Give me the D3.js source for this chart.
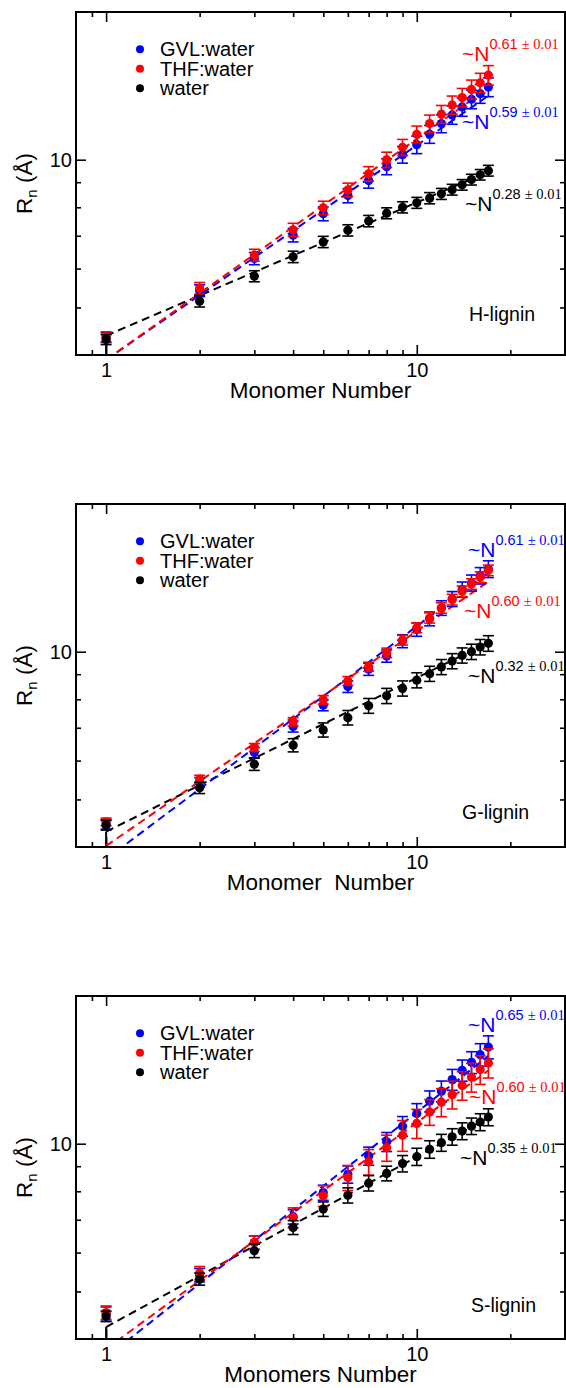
<!DOCTYPE html>
<html><head><meta charset="utf-8">
<script src="https://cdn.jsdelivr.net/npm/d3@7"></script>
<style>body{margin:0;background:#fff} svg{display:block;font-family:"Liberation Sans",Arial,sans-serif}</style>
</head><body><svg id="c" width="566" height="1388"></svg>
<script>
// ---------- data ----------
const monomers = [1,2,3,4,5,6,7,8,9,10,11,12,13,14,15,16,17];
const seriesNames = ["GVL:water","THF:water","water"];
const panelNames = ["H-lignin","G-lignin","S-lignin"];
const xTitles = ["Monomer Number","Monomer  Number","Monomers Number"];
const xTickValues = [1,10];
const xTickLabels = ["1","10"];
const xMinorTicks = [0.9,2,3,4,5,6,7,8,9,20];
const yTickValues = [10];
const yTickLabels = ["10"];
const yMinorTicks = [5,6,7,8,9];

// H-lignin
const hGVL   = [4.34,5.41,6.29,7.02,7.76,8.45,9.07,9.68,10.24,10.73,11.27,11.85,12.34,12.81,13.28,13.63,14.06];
const hTHF   = [4.36,5.47,6.39,7.20,7.98,8.68,9.36,10.0,10.6,11.27,11.85,12.38,12.93,13.39,13.91,14.35,14.87];
const hWater = [4.30,5.15,5.79,6.34,6.80,7.18,7.50,7.78,8.00,8.17,8.35,8.52,8.69,8.89,9.11,9.32,9.50];
const hGVLErr   = [0.10,0.15,0.18,0.22,0.25,0.28,0.32,0.36,0.40,0.44,0.47,0.50,0.53,0.55,0.58,0.60,0.62];
const hTHFErr   = [0.10,0.15,0.18,0.22,0.25,0.28,0.32,0.36,0.40,0.44,0.48,0.52,0.55,0.58,0.62,0.65,0.68];
const hWaterErr = [0.10,0.14,0.15,0.17,0.18,0.19,0.20,0.20,0.21,0.21,0.22,0.22,0.22,0.22,0.23,0.23,0.24];
// G-lignin
const gGVL   = [4.45,5.42,6.23,7.04,7.78,8.49,9.21,9.80,10.51,11.10,11.67,12.28,12.81,13.39,13.81,14.29,14.74];
const gTHF   = [4.50,5.50,6.38,7.20,7.98,8.72,9.32,9.95,10.56,11.19,11.72,12.28,12.77,13.28,13.74,14.20,14.65];
const gWater = [4.43,5.28,5.90,6.45,6.93,7.34,7.76,8.13,8.42,8.75,9.02,9.31,9.57,9.83,10.0,10.22,10.40];
const gGVLErr   = [0.10,0.12,0.15,0.18,0.20,0.23,0.26,0.28,0.32,0.35,0.38,0.42,0.45,0.48,0.52,0.55,0.58];
const gTHFErr   = [0.08,0.10,0.12,0.14,0.16,0.18,0.20,0.22,0.24,0.26,0.28,0.30,0.32,0.33,0.34,0.35,0.36];
const gWaterErr = [0.10,0.14,0.17,0.20,0.23,0.25,0.27,0.29,0.30,0.31,0.32,0.33,0.34,0.35,0.36,0.37,0.38];
// S-lignin
const sGVL   = [4.50,5.40,6.29,7.10,7.95,8.66,9.44,10.09,10.86,11.52,12.21,12.79,13.51,14.11,14.65,15.19,15.74];
const sTHF   = [4.53,5.45,6.29,7.07,7.83,8.53,9.18,9.81,10.40,11.00,11.60,12.15,12.59,13.14,13.66,14.16,14.61];
const sWater = [4.45,5.30,6.05,6.75,7.36,7.85,8.31,8.70,9.11,9.41,9.74,10.05,10.33,10.61,10.86,11.07,11.33];
const sGVLErr   = [0.15,0.17,0.20,0.24,0.28,0.35,0.40,0.45,0.50,0.55,0.60,0.63,0.66,0.70,0.75,0.80,0.85];
const sTHFErr   = [0.14,0.17,0.20,0.33,0.38,0.50,0.55,0.60,0.75,0.75,0.70,0.80,0.82,0.88,0.92,0.95,1.00];
const sWaterErr = [0.11,0.15,0.19,0.22,0.25,0.28,0.30,0.30,0.35,0.38,0.40,0.40,0.40,0.42,0.42,0.44,0.45];

// fitted power-law lines: values at the end points fitN
const fitN = [1,17];
const hFitGVL = [3.91,13.5], hFitTHF = [3.91,14.0], hFitWater = [4.38,9.45];
const gFitGVL = [3.78,14.5], gFitTHF = [4.02,13.9], gFitWater = [4.30,10.45];
const sFitGVL = [3.67,15.1], sFitTHF = [3.82,14.1], sFitWater = [4.23,11.3];

// exponent labels
const hExponents = ["0.59","0.61","0.28"];
const gExponents = ["0.61","0.60","0.32"];
const sExponents = ["0.65","0.60","0.35"];
const exponentErr = "\u00b1 0.01";

// ---------- layout / style ----------
const colors = ["#0000ff","#ff0000","#000000"];
const W = 566, X0 = 76, X1 = 565, PH = 343;
const panelTops = [12, 504, 996];
// annotation positions (x, baseline relative to panel top) per series [GVL, THF, water]
const annPos = [
  [[462,117],[462,49],[465,199]],
  [[468,53],[464,114],[468,179]],
  [[468,36],[469,108],[460,169]]
];
const panelLabelPos = [[469,309],[462,315],[471,316]];

const panels = [
  {name:panelNames[0], title:xTitles[0], vals:[hGVL,hTHF,hWater], errs:[hGVLErr,hTHFErr,hWaterErr], fits:[hFitGVL,hFitTHF,hFitWater], exps:hExponents},
  {name:panelNames[1], title:xTitles[1], vals:[gGVL,gTHF,gWater], errs:[gGVLErr,gTHFErr,gWaterErr], fits:[gFitGVL,gFitTHF,gFitWater], exps:gExponents},
  {name:panelNames[2], title:xTitles[2], vals:[sGVL,sTHF,sWater], errs:[sGVLErr,sTHFErr,sWaterErr], fits:[sFitGVL,sFitTHF,sFitWater], exps:sExponents}
];

const svg = d3.select("#c");
svg.append("rect").attr("width",W).attr("height",1388).attr("fill","#fff");

panels.forEach((p, pi) => {
  const top = panelTops[pi];
  const x = d3.scaleLog().domain([0.8,30]).range([X0,X1]);
  const y = d3.scaleLog().domain([4,20]).range([top+PH, top]);
  const g = svg.append("g");
  const clipId = "clip"+pi;
  svg.append("clipPath").attr("id",clipId).append("rect")
     .attr("x",X0).attr("y",top).attr("width",X1-X0).attr("height",PH);

  // axes (ticks inward on all four sides)
  const mkAxis = (axisFn, scale, vals, size) => axisFn(scale).tickValues(vals).tickSize(size).tickFormat("");
  const ax = [
    [d3.axisBottom, x, xMinorTicks, 5, `translate(0,${top+PH})`],
    [d3.axisBottom, x, xTickValues, 10, `translate(0,${top+PH})`],
    [d3.axisTop, x, xMinorTicks, 5, `translate(0,${top})`],
    [d3.axisTop, x, xTickValues, 10, `translate(0,${top})`],
    [d3.axisLeft, y, yMinorTicks, 5, `translate(${X0},0)`],
    [d3.axisLeft, y, yTickValues, 10, `translate(${X0},0)`],
    [d3.axisRight, y, yMinorTicks, 5, `translate(${X1},0)`],
    [d3.axisRight, y, yTickValues, 10, `translate(${X1},0)`]
  ];
  ax.forEach(([fn, sc, vals, sz, tr]) => {
    const a = g.append("g").attr("transform", tr).call(mkAxis(fn, sc, vals, -sz));
    a.select(".domain").remove();
    a.selectAll("line").attr("stroke","#000").attr("stroke-width",1.6);
  });
  // tick labels
  g.append("g").attr("transform",`translate(0,${top+PH})`)
    .call(d3.axisBottom(x).tickValues(xTickValues).tickSize(0).tickPadding(0).tickFormat((d,i)=>xTickLabels[i]))
    .call(s=>{s.select(".domain").remove();
      s.selectAll("text").attr("y",22).attr("dy",0).attr("font-size",20).attr("fill","#000")
       .attr("font-family","Liberation Sans, Arial, sans-serif");});
  g.append("g").attr("transform",`translate(${X0},0)`)
    .call(d3.axisLeft(y).tickValues(yTickValues).tickSize(0).tickPadding(0).tickFormat((d,i)=>yTickLabels[i]))
    .call(s=>{s.select(".domain").remove();
      s.selectAll("text").attr("x",-4).attr("dy","0.35em").attr("font-size",20).attr("fill","#000")
       .attr("font-family","Liberation Sans, Arial, sans-serif");});

  // titles
  g.append("text").attr("x",(X0+X1)/2).attr("y",top+386).attr("text-anchor","middle")
    .attr("font-size",22.5).style("white-space","pre").text(p.title);
  const yl = g.append("text").attr("transform",`translate(32,${top+PH/2}) rotate(-90)`)
    .attr("text-anchor","middle").attr("font-size",22.5);
  yl.append("tspan").text("R");
  yl.append("tspan").attr("font-size",15).attr("dy",5).text("n");
  yl.append("tspan").attr("dy",-5).style("white-space","pre").text(" (\u00c5)");

  // plot content
  const plot = g.append("g").attr("clip-path",`url(#${clipId})`);
  // black vertical at n=1 from axis up to fit start
  plot.append("line").attr("x1",x(fitN[0])).attr("x2",x(fitN[0]))
    .attr("y1",y(4)).attr("y2",y(p.fits[2][0])).attr("stroke","#000").attr("stroke-width",2);
  const line = d3.line().x(d=>x(d[0])).y(d=>y(d[1]));
  [2,0,1].forEach(si => {
    plot.append("path").datum(fitN.map((n,i)=>[n,p.fits[si][i]]))
      .attr("d",line).attr("fill","none").attr("stroke",colors[si])
      .attr("stroke-width",2).attr("stroke-dasharray","8,5");
  });
  [0,1,2].forEach(si => {
    const sg = plot.append("g");
    const vals = p.vals[si], errs = p.errs[si];
    monomers.forEach((n,i) => {
      const cx = x(n), lo = y(vals[i]-errs[i]), hi = y(vals[i]+errs[i]);
      sg.append("line").attr("x1",cx).attr("x2",cx).attr("y1",lo).attr("y2",hi)
        .attr("stroke",colors[si]).attr("stroke-width",1.6);
      [lo,hi].forEach(yy => sg.append("line").attr("x1",cx-5.5).attr("x2",cx+5.5)
        .attr("y1",yy).attr("y2",yy).attr("stroke",colors[si]).attr("stroke-width",1.6));
      sg.append("circle").attr("cx",cx).attr("cy",y(vals[i])).attr("r",4.6).attr("fill",colors[si]);
    });
  });

  // frame
  g.append("rect").attr("x",X0).attr("y",top).attr("width",X1-X0).attr("height",PH)
    .attr("fill","none").attr("stroke","#000").attr("stroke-width",2);

  // legend
  seriesNames.forEach((s,si) => {
    const cy = top + 37.3 + si*19.5;
    g.append("circle").attr("cx",140).attr("cy",cy).attr("r",4).attr("fill",colors[si]);
    g.append("text").attr("x",160).attr("y",cy+7).attr("font-size",20).text(s);
  });

  // panel name
  g.append("text").attr("x",panelLabelPos[pi][0]).attr("y",top+panelLabelPos[pi][1])
    .attr("font-size",19.5).text(p.name);

  // exponent annotations
  p.exps.forEach((e,si) => {
    const t = g.append("text").attr("x",annPos[pi][si][0]).attr("y",top+annPos[pi][si][1])
      .attr("fill",colors[si]).attr("font-size",21).style("white-space","pre");
    t.append("tspan").text("~N");
    t.append("tspan").attr("dy",-12).attr("font-size",14.5).text(e+" ");
    t.append("tspan").attr("font-size",14.5).attr("font-family","Liberation Serif, Times New Roman, serif").text(exponentErr);
  });
});
</script></body></html>
